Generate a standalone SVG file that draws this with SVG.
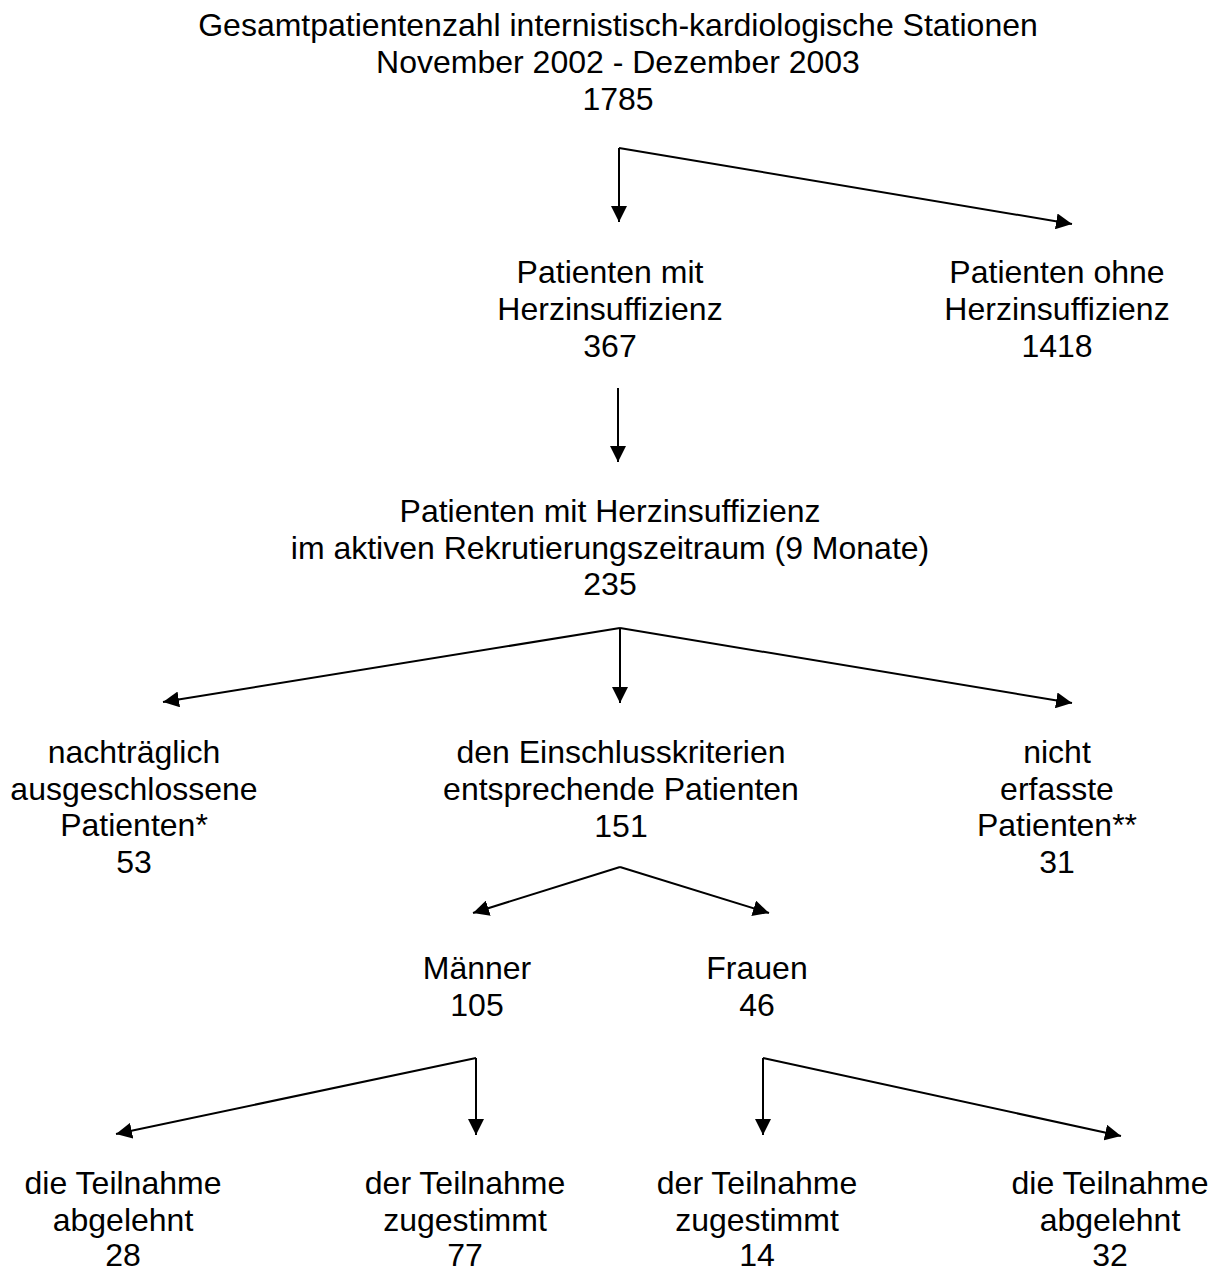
<svg xmlns="http://www.w3.org/2000/svg" width="1222" height="1271" viewBox="0 0 1222 1271">
<style>
text{font-family:"Liberation Sans",Arial,sans-serif;font-size:32px;fill:#000;text-anchor:middle}
.c{stroke:#000;stroke-width:2;fill:none}
</style>
<defs>
<marker id="a" viewBox="0 0 10 10" refX="10" refY="5" markerWidth="16" markerHeight="16" markerUnits="userSpaceOnUse" orient="auto">
<path d="M0,0 L10,5 L0,10 z" fill="#000"/>
</marker>
</defs>
<rect width="1222" height="1271" fill="#fff"/>
<g id="n-total"><text x="618" y="36">Gesamtpatientenzahl internistisch-kardiologische Stationen</text><text x="618" y="73">November 2002 - Dezember 2003</text><text x="618" y="110">1785</text></g>
<g id="n-mit"><text x="610" y="283">Patienten mit</text><text x="610" y="320">Herzinsuffizienz</text><text x="610" y="357">367</text></g>
<g id="n-ohne"><text x="1057" y="283">Patienten ohne</text><text x="1057" y="320">Herzinsuffizienz</text><text x="1057" y="357">1418</text></g>
<g id="n-aktiv"><text x="610" y="522">Patienten mit Herzinsuffizienz</text><text x="610" y="559">im aktiven Rekrutierungszeitraum (9 Monate)</text><text x="610" y="595">235</text></g>
<g id="n-aus"><text x="134" y="763">nachträglich</text><text x="134" y="800">ausgeschlossene</text><text x="134" y="836">Patienten*</text><text x="134" y="873">53</text></g>
<g id="n-ein"><text x="621" y="763">den Einschlusskriterien</text><text x="621" y="800">entsprechende Patienten</text><text x="621" y="837">151</text></g>
<g id="n-nicht"><text x="1057" y="763">nicht</text><text x="1057" y="800">erfasste</text><text x="1057" y="836">Patienten**</text><text x="1057" y="873">31</text></g>
<g id="n-m"><text x="477" y="979">Männer</text><text x="477" y="1016">105</text></g>
<g id="n-f"><text x="757" y="979">Frauen</text><text x="757" y="1016">46</text></g>
<g id="n-mab"><text x="123" y="1194">die Teilnahme</text><text x="123" y="1231">abgelehnt</text><text x="123" y="1266">28</text></g>
<g id="n-mzu"><text x="465" y="1194">der Teilnahme</text><text x="465" y="1231">zugestimmt</text><text x="465" y="1266">77</text></g>
<g id="n-fzu"><text x="757" y="1194">der Teilnahme</text><text x="757" y="1231">zugestimmt</text><text x="757" y="1266">14</text></g>
<g id="n-fab"><text x="1110" y="1194">die Teilnahme</text><text x="1110" y="1231">abgelehnt</text><text x="1110" y="1266">32</text></g>
<g id="connectors" class="c">
<path d="M619,148 L619,222" marker-end="url(#a)"/>
<path d="M619,148 L1072,224" marker-end="url(#a)"/>
<path d="M618,388 L618,462" marker-end="url(#a)"/>
<path d="M620,628 L620,703" marker-end="url(#a)"/>
<path d="M620,628 L163,702" marker-end="url(#a)"/>
<path d="M620,628 L1072,703" marker-end="url(#a)"/>
<path d="M620,867 L473,913" marker-end="url(#a)"/>
<path d="M620,867 L769,913" marker-end="url(#a)"/>
<path d="M476,1058 L476,1135" marker-end="url(#a)"/>
<path d="M476,1058 L116,1134" marker-end="url(#a)"/>
<path d="M763,1058 L763,1135" marker-end="url(#a)"/>
<path d="M763,1058 L1121,1136" marker-end="url(#a)"/>
</g>
</svg>
